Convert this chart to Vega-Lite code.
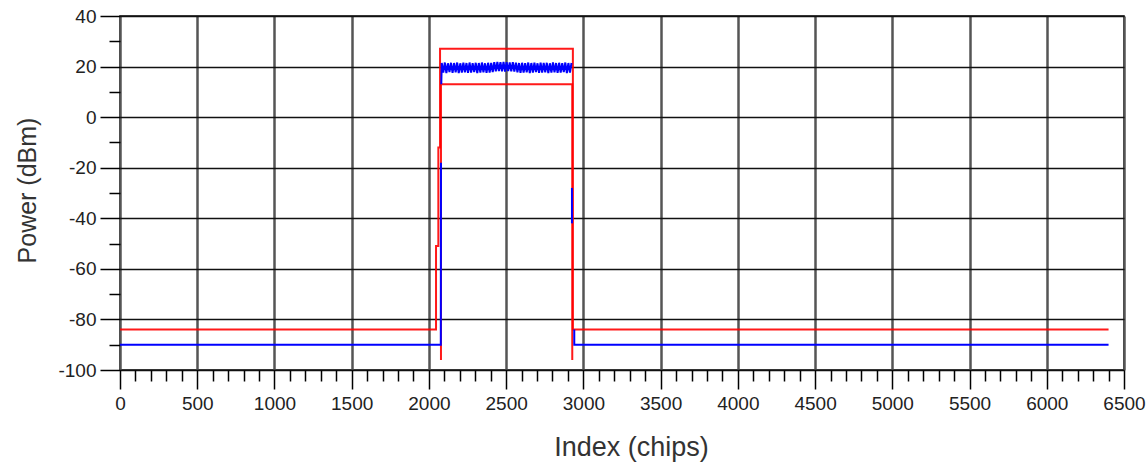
{
  "$schema": "https://vega.github.io/schema/vega-lite/v6.json",
  "width": 1004,
  "height": 354,
  "autosize": {"type": "none"},
  "padding": {"left": 120, "top": 16, "right": 23, "bottom": 96},
  "background": "white",
  "config": {"view": {"stroke": "#000", "strokeWidth": 1.5}, "font": "Liberation Sans"},
  "datasets": {
    "signal": [
      {"g": "a", "i": 0, "x": 0, "y": -90}, {"g": "a", "i": 1, "x": 2077, "y": -90}, {"g": "a", "i": 2, "x": 2078, "y": -18},
      {"g": "b", "i": 2, "x": 2080, "y": 13},
      {"g": "b", "i": 3, "x": 2083, "y": 21.4}, {"g": "b", "i": 4, "x": 2093, "y": 17.6}, {"g": "b", "i": 5, "x": 2103, "y": 21.6}, {"g": "b", "i": 6, "x": 2113, "y": 17.4},
      {"g": "b", "i": 7, "x": 2123, "y": 21.3}, {"g": "b", "i": 8, "x": 2133, "y": 17.8}, {"g": "b", "i": 9, "x": 2143, "y": 21.5}, {"g": "b", "i": 10, "x": 2153, "y": 17.5},
      {"g": "b", "i": 11, "x": 2163, "y": 21.4}, {"g": "b", "i": 12, "x": 2173, "y": 17.7}, {"g": "b", "i": 13, "x": 2183, "y": 21.6}, {"g": "b", "i": 14, "x": 2193, "y": 17.4},
      {"g": "b", "i": 15, "x": 2203, "y": 21.3}, {"g": "b", "i": 16, "x": 2213, "y": 17.6}, {"g": "b", "i": 17, "x": 2223, "y": 21.5}, {"g": "b", "i": 18, "x": 2233, "y": 17.7},
      {"g": "b", "i": 19, "x": 2243, "y": 21.4}, {"g": "b", "i": 20, "x": 2253, "y": 17.5}, {"g": "b", "i": 21, "x": 2263, "y": 21.6}, {"g": "b", "i": 22, "x": 2273, "y": 17.6},
      {"g": "b", "i": 23, "x": 2283, "y": 21.3}, {"g": "b", "i": 24, "x": 2293, "y": 17.8}, {"g": "b", "i": 25, "x": 2303, "y": 21.5}, {"g": "b", "i": 26, "x": 2313, "y": 17.4},
      {"g": "b", "i": 27, "x": 2323, "y": 21.4}, {"g": "b", "i": 28, "x": 2333, "y": 17.6}, {"g": "b", "i": 29, "x": 2343, "y": 21.6}, {"g": "b", "i": 30, "x": 2353, "y": 17.7},
      {"g": "b", "i": 31, "x": 2363, "y": 21.3}, {"g": "b", "i": 32, "x": 2373, "y": 17.5}, {"g": "b", "i": 33, "x": 2383, "y": 21.5}, {"g": "b", "i": 34, "x": 2393, "y": 17.6},
      {"g": "b", "i": 35, "x": 2403, "y": 21.4}, {"g": "b", "i": 36, "x": 2413, "y": 17.8}, {"g": "b", "i": 37, "x": 2423, "y": 21.7}, {"g": "b", "i": 38, "x": 2433, "y": 18.1},
      {"g": "b", "i": 39, "x": 2443, "y": 21.8}, {"g": "b", "i": 40, "x": 2453, "y": 18.2}, {"g": "b", "i": 41, "x": 2463, "y": 21.7}, {"g": "b", "i": 42, "x": 2473, "y": 18.1},
      {"g": "b", "i": 43, "x": 2483, "y": 21.8}, {"g": "b", "i": 44, "x": 2493, "y": 18.0}, {"g": "b", "i": 45, "x": 2503, "y": 21.7}, {"g": "b", "i": 46, "x": 2513, "y": 18.2},
      {"g": "b", "i": 47, "x": 2523, "y": 21.6}, {"g": "b", "i": 48, "x": 2533, "y": 18.1}, {"g": "b", "i": 49, "x": 2543, "y": 21.7}, {"g": "b", "i": 50, "x": 2553, "y": 18.0},
      {"g": "b", "i": 51, "x": 2563, "y": 21.5}, {"g": "b", "i": 52, "x": 2573, "y": 17.7}, {"g": "b", "i": 53, "x": 2583, "y": 21.4}, {"g": "b", "i": 54, "x": 2593, "y": 17.5},
      {"g": "b", "i": 55, "x": 2603, "y": 21.5}, {"g": "b", "i": 56, "x": 2613, "y": 17.6}, {"g": "b", "i": 57, "x": 2623, "y": 21.3}, {"g": "b", "i": 58, "x": 2633, "y": 17.7},
      {"g": "b", "i": 59, "x": 2643, "y": 21.6}, {"g": "b", "i": 60, "x": 2653, "y": 17.4}, {"g": "b", "i": 61, "x": 2663, "y": 21.4}, {"g": "b", "i": 62, "x": 2673, "y": 17.6},
      {"g": "b", "i": 63, "x": 2683, "y": 21.5}, {"g": "b", "i": 64, "x": 2693, "y": 17.8}, {"g": "b", "i": 65, "x": 2703, "y": 21.3}, {"g": "b", "i": 66, "x": 2713, "y": 17.5},
      {"g": "b", "i": 67, "x": 2723, "y": 21.6}, {"g": "b", "i": 68, "x": 2733, "y": 17.6}, {"g": "b", "i": 69, "x": 2743, "y": 21.4}, {"g": "b", "i": 70, "x": 2753, "y": 17.7},
      {"g": "b", "i": 71, "x": 2763, "y": 21.5}, {"g": "b", "i": 72, "x": 2773, "y": 17.4}, {"g": "b", "i": 73, "x": 2783, "y": 21.3}, {"g": "b", "i": 74, "x": 2793, "y": 17.6},
      {"g": "b", "i": 75, "x": 2803, "y": 21.6}, {"g": "b", "i": 76, "x": 2813, "y": 17.7}, {"g": "b", "i": 77, "x": 2823, "y": 21.4}, {"g": "b", "i": 78, "x": 2833, "y": 17.5},
      {"g": "b", "i": 79, "x": 2843, "y": 21.5}, {"g": "b", "i": 80, "x": 2853, "y": 17.6}, {"g": "b", "i": 81, "x": 2863, "y": 21.3}, {"g": "b", "i": 82, "x": 2873, "y": 17.8},
      {"g": "b", "i": 83, "x": 2883, "y": 21.6}, {"g": "b", "i": 84, "x": 2893, "y": 17.4}, {"g": "b", "i": 85, "x": 2903, "y": 21.4}, {"g": "b", "i": 86, "x": 2913, "y": 17.6},
      {"g": "b", "i": 87, "x": 2923, "y": 21.4},
      {"g": "d", "i": 88, "x": 2926, "y": -28}, {"g": "d", "i": 89, "x": 2926, "y": -42},
      {"g": "c", "i": 90, "x": 2941, "y": -84}, {"g": "c", "i": 91, "x": 2941, "y": -90}, {"g": "c", "i": 92, "x": 6400, "y": -90}
    ],
    "mask": [
      {"s": "upper", "i": 0, "x": 0, "y": -84}, {"s": "upper", "i": 1, "x": 2046, "y": -84},
      {"s": "upper", "i": 2, "x": 2046, "y": -51}, {"s": "upper", "i": 3, "x": 2061, "y": -51},
      {"s": "upper", "i": 4, "x": 2061, "y": -12}, {"s": "upper", "i": 5, "x": 2072, "y": -12},
      {"s": "upper", "i": 6, "x": 2072, "y": 27}, {"s": "upper", "i": 7, "x": 2932, "y": 27},
      {"s": "upper", "i": 8, "x": 2932, "y": -84}, {"s": "upper", "i": 9, "x": 6400, "y": -84},
      {"s": "lower", "i": 0, "x": 2078, "y": -96}, {"s": "lower", "i": 1, "x": 2078, "y": 13},
      {"s": "lower", "i": 2, "x": 2928, "y": 13}, {"s": "lower", "i": 3, "x": 2928, "y": -96}
    ]
  },
  "layer": [
    {
      "data": {"name": "mask"},
      "mark": {"type": "line", "color": "#ff0000", "strokeWidth": 2, "opacity": 0.9},
      "encoding": {
        "x": {
          "field": "x", "type": "quantitative",
          "scale": {"domain": [0, 6500], "nice": false, "zero": false},
          "axis": {
            "orient": "bottom",
            "values": [100, 200, 300, 400, 600, 700, 800, 900, 1100, 1200, 1300, 1400, 1600, 1700, 1800, 1900, 2100, 2200, 2300, 2400, 2600, 2700, 2800, 2900, 3100, 3200, 3300, 3400, 3600, 3700, 3800, 3900, 4100, 4200, 4300, 4400, 4600, 4700, 4800, 4900, 5100, 5200, 5300, 5400, 5600, 5700, 5800, 5900, 6100, 6200, 6300, 6400],
            "grid": false, "domain": false, "labels": false,
            "tickSize": 11, "tickColor": "#000", "tickWidth": 1.5,
            "title": null
          }
        },
        "y": {
          "field": "y", "type": "quantitative",
          "scale": {"domain": [-100, 40], "nice": false, "zero": false},
          "axis": {
            "orient": "left",
            "values": [-90, -70, -50, -30, -10, 10, 30],
            "grid": false, "domain": false, "labels": false,
            "tickSize": 11, "tickColor": "#000", "tickWidth": 1.5,
            "title": null
          }
        },
        "detail": {"field": "s", "type": "nominal"},
        "order": {"field": "i", "type": "quantitative"}
      }
    },
    {
      "data": {"name": "signal"},
      "mark": {"type": "line", "color": "#0000ff", "strokeWidth": 2},
      "encoding": {
        "x": {
          "field": "x", "type": "quantitative",
          "scale": {"domain": [0, 6500], "nice": false, "zero": false},
          "axis": {
            "orient": "bottom",
            "values": [0, 500, 1000, 1500, 2000, 2500, 3000, 3500, 4000, 4500, 5000, 5500, 6000, 6500],
            "labelExpr": "'' + datum.value",
            "grid": true, "gridColor": "#555", "gridWidth": 2.5,
            "domain": false,
            "tickSize": 19, "tickColor": "#000", "tickWidth": 1.5,
            "labelFontSize": 19, "labelColor": "#222", "labelPadding": 5,
            "labelFlush": false, "labelOverlap": false,
            "title": "Index (chips)", "titleFontSize": 27, "titleFontWeight": "normal", "titleColor": "#333",
            "titleX": 511, "titleY": 77, "titleBaseline": "middle", "titleAlign": "center"
          }
        },
        "y": {
          "field": "y", "type": "quantitative",
          "scale": {"domain": [-100, 40], "nice": false, "zero": false},
          "axis": {
            "orient": "left",
            "values": [-100, -80, -60, -40, -20, 0, 20, 40],
            "labelExpr": "'' + datum.value",
            "grid": true, "gridColor": "#111", "gridWidth": 1.5,
            "domain": false,
            "tickSize": 20, "tickColor": "#000", "tickWidth": 1.5,
            "labelFontSize": 19, "labelColor": "#222", "labelPadding": 4,
            "labelFlush": false, "labelOverlap": false,
            "title": "Power (dBm)", "titleFontSize": 25, "titleFontWeight": "normal", "titleColor": "#333",
            "titleX": -93, "titleY": 174, "titleAngle": 270, "titleBaseline": "middle", "titleAlign": "center"
          }
        },
        "detail": {"field": "g", "type": "nominal"},
        "order": {"field": "i", "type": "quantitative"}
      }
    }
  ],
  "resolve": {"axis": {"x": "independent", "y": "independent"}}
}
